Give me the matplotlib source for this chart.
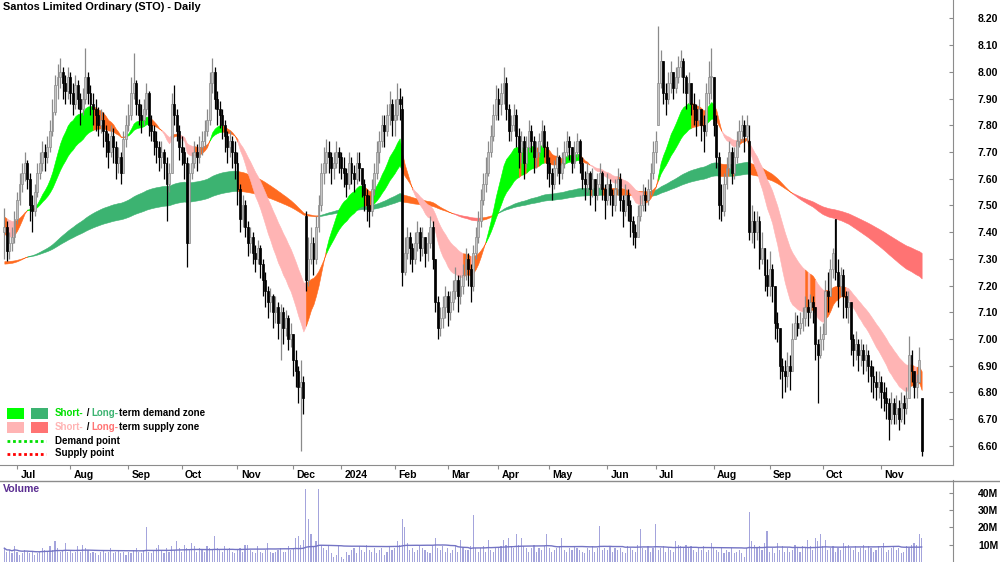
import numpy as np
import pandas as pd
import matplotlib
matplotlib.use("Agg")
import matplotlib.pyplot as plt
from matplotlib.patches import Rectangle
from matplotlib.lines import Line2D
import matplotlib.transforms as mtransforms

plt.rcParams['font.family'] = ['Liberation Sans', 'DejaVu Sans']

# ---------------- data ----------------
holidays = ['2023-12-25', '2023-12-26', '2024-01-01', '2024-01-26',
            '2024-03-29', '2024-04-01', '2024-04-25', '2024-06-10']
first_open = 7.40
# bars that opened with a gap: {bar number: open}
gap_opens = {119: 7.46, 157: 7.86, 258: 7.80, 294: 7.74, 328: 7.45, 362: 6.78}

close = [
    # Jun 2023
    7.42, 7.33, 7.36, 7.38, 7.45,
    # Jul
    7.52, 7.58, 7.62, 7.66, 7.60, 7.50, 7.48, 7.55, 7.62, 7.66, 7.70, 7.68, 7.72, 7.78, 7.85, 7.95, 7.98, 8.00, 7.96, 7.93, 7.98,
    # Aug
    7.92, 7.88, 7.95, 7.90, 7.86, 7.90, 7.98, 7.92, 7.88, 7.86, 7.84, 7.80, 7.82, 7.78, 7.74, 7.70, 7.76, 7.72, 7.66, 7.68, 7.62, 7.75, 7.80,
    # Sep
    7.84, 7.92, 7.96, 7.88, 7.84, 7.82, 7.86, 7.92, 7.80, 7.78, 7.74, 7.72, 7.68, 7.70, 7.66, 7.58, 7.62, 7.88, 7.84, 7.78, 7.72,
    # Oct
    7.70, 7.66, 7.36, 7.62, 7.66, 7.70, 7.68, 7.72, 7.74, 7.78, 7.82, 7.96, 8.00, 7.90, 7.86, 7.84, 7.80, 7.76, 7.72, 7.74, 7.70, 7.66,
    # Nov
    7.56, 7.45, 7.50, 7.42, 7.36, 7.38, 7.32, 7.30, 7.34, 7.28, 7.22, 7.18, 7.14, 7.16, 7.10, 7.12, 7.06, 7.10, 7.04, 7.08, 7.00, 7.02,
    # Dec
    6.92, 6.88, 6.82, 6.84, 6.78, 7.22, 7.30, 7.36, 7.30, 7.42, 7.50, 7.62, 7.66, 7.70, 7.68, 7.64, 7.66, 7.70, 7.68,
    # Jan 2024
    7.64, 7.62, 7.58, 7.66, 7.62, 7.60, 7.66, 7.64, 7.58, 7.54, 7.50, 7.48, 7.56, 7.62, 7.70, 7.74, 7.80, 7.78, 7.84, 7.88, 7.82,
    # Feb
    7.84, 7.90, 7.88, 7.25, 7.32, 7.38, 7.34, 7.30, 7.36, 7.40, 7.34, 7.38, 7.32, 7.36, 7.42, 7.30, 7.14, 7.04, 7.08, 7.12, 7.16,
    # Mar
    7.10, 7.14, 7.18, 7.22, 7.16, 7.20, 7.24, 7.30, 7.26, 7.20, 7.32, 7.38, 7.44, 7.52, 7.58, 7.62, 7.70, 7.76, 7.84, 7.90,
    # Apr
    7.88, 7.92, 7.96, 7.86, 7.78, 7.80, 7.84, 7.76, 7.70, 7.74, 7.66, 7.72, 7.78, 7.74, 7.68, 7.70, 7.74, 7.78, 7.72, 7.66,
    # May
    7.62, 7.58, 7.64, 7.68, 7.62, 7.66, 7.70, 7.74, 7.72, 7.66, 7.70, 7.74, 7.66, 7.60, 7.58, 7.62, 7.56, 7.60, 7.54, 7.58, 7.62, 7.56, 7.52,
    # Jun
    7.58, 7.54, 7.50, 7.56, 7.60, 7.52, 7.48, 7.54, 7.50, 7.44, 7.40, 7.38, 7.46, 7.50, 7.54, 7.52, 7.56, 7.62, 7.70,
    # Jul
    7.74, 7.96, 8.04, 7.92, 7.90, 7.96, 8.00, 7.94, 7.98, 8.02, 8.04, 7.98, 7.92, 7.96, 7.88, 7.86, 7.82, 7.86, 7.80, 7.78, 7.92, 7.98, 7.98,
    # Aug
    7.80, 7.68, 7.50, 7.48, 7.58, 7.64, 7.70, 7.62, 7.68, 7.74, 7.78, 7.80, 7.76, 7.80, 7.40, 7.44, 7.40, 7.44, 7.30, 7.34, 7.24, 7.20,
    # Sep
    7.26, 7.20, 7.06, 7.04, 6.90, 6.88, 6.86, 6.90, 6.88, 7.00, 7.06, 7.04, 7.06, 7.08, 7.12, 7.10, 7.14, 7.12, 6.98, 6.94, 7.00,
    # Oct
    7.02, 7.18, 7.16, 7.26, 7.32, 7.25, 7.20, 7.24, 7.16, 7.12, 7.14, 7.00, 6.96, 6.98, 6.94, 6.96, 6.92, 6.94, 6.90, 6.86, 6.84, 6.82, 6.84,
    # Nov
    6.80, 6.78, 6.76, 6.70, 6.76, 6.72, 6.74, 6.70, 6.76, 6.74, 6.78, 6.94, 6.88, 6.82, 6.84, 6.92, 6.58,
]

high = [
    7.49, 7.44, 7.40, 7.42, 7.48,
    7.55, 7.62, 7.66, 7.70, 7.67, 7.62, 7.54, 7.58, 7.66, 7.70, 7.74, 7.73, 7.76, 7.82, 7.90, 7.99, 8.03, 8.05, 8.02, 7.99, 8.02,
    8.00, 7.96, 7.99, 7.97, 7.92, 7.94, 8.09, 8.00, 7.95, 7.92, 7.90, 7.87, 7.86, 7.85, 7.80, 7.77, 7.80, 7.79, 7.74, 7.72, 7.70, 7.78, 7.84,
    7.88, 7.98, 8.07, 7.97, 7.90, 7.88, 7.90, 7.96, 7.93, 7.84, 7.80, 7.78, 7.74, 7.74, 7.71, 7.68, 7.66, 7.92, 7.95, 7.86, 7.80,
    7.76, 7.72, 7.68, 7.66, 7.70, 7.74, 7.73, 7.76, 7.78, 7.82, 7.86, 8.00, 8.05, 8.02, 7.93, 7.89, 7.86, 7.82, 7.78, 7.78, 7.76, 7.74,
    7.70, 7.58, 7.54, 7.52, 7.44, 7.42, 7.40, 7.35, 7.37, 7.35, 7.30, 7.25, 7.20, 7.19, 7.17, 7.16, 7.14, 7.13, 7.12, 7.11, 7.09, 7.06,
    7.02, 6.96, 6.90, 6.92, 6.86, 7.48, 7.38, 7.42, 7.38, 7.46, 7.54, 7.66, 7.72, 7.75, 7.74, 7.70, 7.70, 7.74, 7.72,
    7.70, 7.68, 7.64, 7.70, 7.68, 7.65, 7.70, 7.70, 7.64, 7.60, 7.56, 7.54, 7.60, 7.66, 7.74, 7.78, 7.84, 7.84, 7.88, 7.93, 7.90,
    7.90, 7.96, 7.94, 7.91, 7.38, 7.42, 7.40, 7.36, 7.40, 7.44, 7.42, 7.42, 7.38, 7.40, 7.46, 7.44, 7.30, 7.16, 7.12, 7.16, 7.20,
    7.18, 7.18, 7.22, 7.27, 7.24, 7.24, 7.28, 7.34, 7.32, 7.28, 7.35, 7.42, 7.48, 7.56, 7.62, 7.68, 7.74, 7.80, 7.88, 7.95,
    7.94, 7.96, 8.02, 7.98, 7.88, 7.84, 7.88, 7.86, 7.79, 7.78, 7.76, 7.76, 7.82, 7.80, 7.76, 7.74, 7.77, 7.82, 7.80, 7.74,
    7.68, 7.64, 7.67, 7.72, 7.69, 7.70, 7.74, 7.78, 7.76, 7.72, 7.74, 7.77, 7.75, 7.68, 7.63, 7.66, 7.63, 7.64, 7.60, 7.62, 7.66, 7.63, 7.58,
    7.62, 7.60, 7.56, 7.60, 7.64, 7.62, 7.54, 7.58, 7.56, 7.52, 7.46, 7.43, 7.50, 7.54, 7.58, 7.57, 7.60, 7.66, 7.74,
    7.78, 8.17, 8.08, 8.04, 7.96, 8.00, 8.04, 8.00, 8.02, 8.06, 8.08, 8.05, 7.99, 8.00, 7.96, 7.92, 7.88, 7.90, 7.86, 7.84, 7.96, 8.04, 8.09,
    7.96, 7.84, 7.70, 7.58, 7.62, 7.68, 7.74, 7.72, 7.72, 7.78, 7.82, 7.84, 7.82, 7.84, 7.80, 7.50, 7.48, 7.48, 7.46, 7.40, 7.33, 7.30,
    7.33, 7.28, 7.12, 7.10, 7.02, 6.93, 6.92, 6.95, 6.94, 7.06, 7.10, 7.09, 7.10, 7.12, 7.16, 7.15, 7.17, 7.16, 7.10, 7.00, 7.05,
    7.06, 7.22, 7.25, 7.30, 7.34, 7.45, 7.30, 7.27, 7.26, 7.18, 7.18, 7.10, 7.02, 7.03, 7.00, 7.00, 6.98, 6.98, 6.96, 6.92, 6.90, 6.88, 6.88,
    6.86, 6.84, 6.82, 6.78, 6.80, 6.78, 6.79, 6.77, 6.80, 6.79, 6.82, 7.01, 6.96, 6.88, 6.87, 6.97, 6.78,
]

low = [
    7.30, 7.29, 7.30, 7.33, 7.36,
    7.43, 7.50, 7.55, 7.59, 7.56, 7.44, 7.40, 7.46, 7.53, 7.60, 7.63, 7.63, 7.66, 7.70, 7.76, 7.84, 7.90, 7.94, 7.90, 7.88, 7.90,
    7.88, 7.84, 7.86, 7.86, 7.80, 7.84, 7.88, 7.88, 7.84, 7.80, 7.78, 7.76, 7.77, 7.72, 7.68, 7.64, 7.68, 7.66, 7.60, 7.62, 7.58, 7.62, 7.72,
    7.78, 7.82, 7.90, 7.84, 7.80, 7.77, 7.80, 7.84, 7.76, 7.74, 7.69, 7.66, 7.63, 7.64, 7.60, 7.44, 7.55, 7.62, 7.80, 7.74, 7.67,
    7.65, 7.60, 7.27, 7.40, 7.60, 7.64, 7.63, 7.66, 7.69, 7.72, 7.76, 7.80, 7.92, 7.86, 7.80, 7.79, 7.75, 7.70, 7.66, 7.68, 7.64, 7.60,
    7.50, 7.40, 7.42, 7.38, 7.31, 7.32, 7.28, 7.25, 7.28, 7.23, 7.16, 7.12, 7.08, 7.10, 7.04, 7.06, 7.00, 6.92, 6.98, 7.01, 6.96, 6.97,
    6.86, 6.82, 6.76, 6.58, 6.72, 7.18, 7.20, 7.28, 7.24, 7.28, 7.40, 7.48, 7.58, 7.62, 7.62, 7.58, 7.60, 7.64, 7.62,
    7.60, 7.57, 7.53, 7.56, 7.58, 7.55, 7.58, 7.59, 7.53, 7.48, 7.44, 7.42, 7.46, 7.54, 7.60, 7.66, 7.72, 7.72, 7.76, 7.80, 7.76,
    7.76, 7.82, 7.82, 7.20, 7.24, 7.30, 7.28, 7.25, 7.28, 7.33, 7.29, 7.31, 7.27, 7.29, 7.34, 7.26, 7.10, 7.00, 7.01, 7.04, 7.08,
    7.05, 7.07, 7.11, 7.15, 7.10, 7.13, 7.17, 7.22, 7.20, 7.14, 7.18, 7.30, 7.36, 7.42, 7.50, 7.55, 7.61, 7.68, 7.74, 7.82,
    7.82, 7.84, 7.88, 7.82, 7.74, 7.74, 7.78, 7.72, 7.64, 7.66, 7.60, 7.64, 7.70, 7.70, 7.62, 7.64, 7.68, 7.72, 7.68, 7.60,
    7.57, 7.52, 7.56, 7.61, 7.58, 7.60, 7.64, 7.68, 7.67, 7.62, 7.64, 7.68, 7.62, 7.56, 7.52, 7.55, 7.50, 7.53, 7.48, 7.52, 7.56, 7.52, 7.45,
    7.50, 7.50, 7.46, 7.48, 7.54, 7.48, 7.42, 7.46, 7.44, 7.38, 7.35, 7.34, 7.38, 7.44, 7.48, 7.48, 7.50, 7.54, 7.60,
    7.66, 7.80, 7.94, 7.88, 7.84, 7.88, 7.92, 7.90, 7.92, 7.96, 7.98, 7.92, 7.86, 7.88, 7.84, 7.80, 7.76, 7.80, 7.74, 7.70, 7.76, 7.88, 7.90,
    7.76, 7.64, 7.45, 7.44, 7.46, 7.56, 7.62, 7.58, 7.60, 7.66, 7.72, 7.74, 7.70, 7.74, 7.37, 7.36, 7.34, 7.37, 7.26, 7.28, 7.18, 7.16,
    7.16, 7.14, 7.00, 6.99, 6.85, 6.78, 6.80, 6.82, 6.81, 6.94, 7.00, 7.01, 7.02, 7.03, 7.05, 7.05, 7.08, 7.06, 6.92, 6.76, 6.93,
    6.96, 7.12, 7.10, 7.20, 7.23, 7.22, 7.12, 7.16, 7.08, 7.08, 7.06, 6.94, 6.90, 6.92, 6.88, 6.90, 6.87, 6.88, 6.84, 6.80, 6.78, 6.77, 6.78,
    6.74, 6.73, 6.70, 6.62, 6.68, 6.68, 6.68, 6.66, 6.69, 6.68, 6.72, 6.78, 6.84, 6.78, 6.78, 6.86, 6.56,
]

volume_m = [
    8, 6, 7, 5, 9,
    6, 4, 5, 7, 6, 5, 6, 4, 5, 6, 8, 7, 6, 9, 7, 12, 8, 6, 7, 11, 6,
    7, 5, 6, 9, 6, 10, 8, 7, 5, 6, 5, 4, 6, 7, 5, 6, 8, 5, 6, 7, 5, 6, 4,
    6, 5, 7, 8, 6, 5, 7, 20, 6, 5, 7, 8, 10, 7, 5, 8, 6, 9, 7, 12, 8,
    6, 10, 8, 7, 11, 9, 6, 8, 7, 6, 9, 8, 7, 15, 8, 7, 6, 9, 7, 8, 6, 5,
    7, 8, 6, 10, 10, 7, 6, 5, 9, 6, 5, 7, 11, 6, 5, 6, 7, 8, 6, 6, 9, 7,
    8, 14, 15, 10, 13, 42, 25, 16, 9, 12, 42, 10, 8, 7, 9, 5, 3, 4, 10,
    3, 2, 6, 4, 7, 8, 5, 9, 7, 6, 10, 7, 6, 8, 5, 7, 8, 4, 6, 9, 7,
    8, 12, 10, 25, 20, 11, 7, 8, 6, 7, 9, 8, 7, 6, 5, 9, 14, 8, 7, 9, 6,
    8, 5, 7, 9, 6, 13, 8, 7, 7, 9, 27, 8, 6, 8, 9, 6, 13, 7, 6, 8,
    8, 9, 13, 10, 14, 9, 8, 16, 10, 14, 9, 8, 6, 8, 10, 6, 8, 7, 9, 16,
    8, 6, 7, 8, 9, 14, 7, 6, 8, 7, 9, 8, 7, 6, 5, 8, 7, 9, 6, 8, 21, 7, 8,
    7, 9, 6, 8, 7, 8, 6, 5, 9, 8, 7, 6, 10, 19, 8, 7, 9, 6, 8,
    22, 7, 8, 9, 6, 8, 7, 6, 12, 10, 9, 8, 10, 8, 9, 7, 6, 8, 7, 9, 6, 7, 11,
    8, 7, 6, 8, 5, 7, 6, 8, 5, 6, 7, 5, 3, 8, 29, 12, 10, 8, 9, 7, 11, 18,
    6, 8, 5, 11, 7, 9, 6, 8, 6, 7, 10, 8, 6, 9, 8, 13, 9, 7, 14, 12, 16,
    9, 13, 7, 8, 9, 6, 8, 7, 11, 9, 10, 8, 7, 9, 6, 8, 10, 7, 9, 8, 6, 7, 9,
    8, 11, 6, 7, 8, 9, 7, 8, 5, 6, 9, 8, 10, 11, 10, 16, 14,
]

# band settings (EMA lengths and starting levels read at the left edge)
short_fast_n, short_slow_n = 17, 34
long_fast_n, long_slow_n = 140, 220
short_fast_seed, short_slow_seed = 7.39, 7.46
long_fast_seed, long_slow_seed = 7.28, 7.29
volume_avg_n = 60

# ---------------- preparation ----------------
dates = pd.bdate_range('2023-06-26', '2024-11-29', freq='C', holidays=holidays)
n = len(close)
dates = dates[:n]
close = np.array(close)
high = np.array(high[:n])
low = np.array(low[:n])
open_ = np.concatenate([[first_open], close[:-1]])
for k, v in gap_opens.items():
    open_[k] = v
high = np.maximum(high, np.maximum(open_, close))
low = np.minimum(low, np.minimum(open_, close))
vol = np.array(volume_m[:n]) * 1e6
x = np.arange(n)


def ema(vals, length, seed):
    a = 2.0 / (length + 1)
    out = []
    e = seed
    for v in vals:
        e = e + a * (v - e)
        out.append(e)
    return np.array(out)


sf = ema(close, short_fast_n, short_fast_seed)
ss = ema(close, short_slow_n, short_slow_seed)
lf = ema(close, long_fast_n, long_fast_seed)
ls = ema(close, long_slow_n, long_slow_seed)

C_SHORT_UP = '#00FF00'
C_LONG_UP = '#3CB371'
C_SHORT_DN = '#FFB4B4'
C_LONG_DN = '#FF7373'
C_MIX = '#FF6A1F'

fig = plt.figure(figsize=(10, 5.62), dpi=100)
PX_W, PX_H = 1000.0, 562.0
AX_RIGHT = 953
ax = fig.add_axes([0, (PX_H - 465) / PX_H, AX_RIGHT / PX_W, 465 / PX_H])
axv = fig.add_axes([0, 0, AX_RIGHT / PX_W, 82 / PX_H])

px_per_bar = 2.534
x0 = -1.71
ax.set_xlim(x0, x0 + AX_RIGHT / px_per_bar)
axv.set_xlim(x0, x0 + AX_RIGHT / px_per_bar)
ax.set_ylim(6.528, 8.269)
axv.set_ylim(0, 47.5e6)


def draw_band(axis, xs, f, s, c_up, c_dn, c_mix, z):
    d = np.diff(f, prepend=f[0])
    state = np.where((f >= s) & (d >= 0), 0, np.where((f < s) & (d < 0), 1, 2))
    cols = [c_up, c_dn, c_mix]
    start = 0
    m = len(xs)
    for i in range(1, m + 1):
        if i == m or state[i] != state[start]:
            end = min(i, m - 1)
            if end > start:
                axis.fill_between(xs[start:end + 1], f[start:end + 1], s[start:end + 1],
                                  color=cols[state[start]], lw=0.4, zorder=z)
            start = i


draw_band(ax, x, lf, ls, C_LONG_UP, C_LONG_DN, C_MIX, 1)
draw_band(ax, x, sf, ss, C_SHORT_UP, C_SHORT_DN, C_MIX, 2)

# candles
up = close >= open_
ax.vlines(x[up], low[up], high[up], color='#8a8a8a', lw=0.9, zorder=3)
ax.vlines(x[~up], low[~up], high[~up], color='#000000', lw=0.9, zorder=3)
body_b = np.minimum(open_, close)
body_h = np.maximum(np.abs(close - open_), 0.006)
ax.bar(x[up], body_h[up], bottom=body_b[up], width=0.75, color='#c4c4c4',
       edgecolor='#8a8a8a', lw=0.5, zorder=4)
ax.bar(x[~up], body_h[~up], bottom=body_b[~up], width=0.75, color='#000000',
       edgecolor='#000000', lw=0.5, zorder=4)

# volume
axv.bar(x, vol, width=0.45, color='#a4a4dc', lw=0, zorder=2)
vma = pd.Series(vol).rolling(volume_avg_n, min_periods=1).mean().values
axv.plot(x, vma, color='#7474c4', lw=1.0, zorder=3)

# axes styling
GRID = '#8c8c8c'
for a in (ax, axv):
    a.set_facecolor('none')
    for sp in ('top', 'left'):
        a.spines[sp].set_visible(False)
    a.spines['right'].set_color(GRID)
    a.yaxis.tick_right()
ax.spines['bottom'].set_color(GRID)
axv.spines['bottom'].set_visible(False)

ax.set_yticks(np.round(np.arange(6.6, 8.21, 0.1), 2))
ax.set_yticklabels([f"{v:.2f}" for v in np.arange(6.6, 8.21, 0.1)])
ax.tick_params(axis='y', direction='in', length=3, color=GRID, pad=18,
               labelsize=7.5)
axv.set_yticks([10e6, 20e6, 30e6, 40e6])
axv.set_yticklabels(['10M', '20M', '30M', '40M'])
axv.tick_params(axis='y', direction='in', length=3, color=GRID, pad=18,
                labelsize=7.5)
for lbl in ax.get_yticklabels() + axv.get_yticklabels():
    lbl.set_fontweight('bold')

# month ticks
months = pd.Series(dates.to_period('M'))
month_start = [i for i in range(n) if i == 0 or months[i] != months[i - 1]]
month_start = [i for i in month_start if dates[i].day <= 7 and i > 0]
ax.set_xticks(month_start)
ax.set_xticklabels([])
ax.tick_params(axis='x', direction='out', length=3, color=GRID)
axv.set_xticks([])
trans = mtransforms.blended_transform_factory(ax.transData, ax.transAxes)
for i in month_start:
    d = dates[i]
    lab = str(d.year) if d.month == 1 else d.strftime('%b')
    ax.text(i + 1.3, -9.5 / 465, lab, transform=trans, ha='left', va='center',
            fontsize=7.5, fontweight='bold', color='#000000', clip_on=False)

# separator line above the volume panel (full width)
fig.add_artist(Line2D([0, 1], [1 - 480.5 / PX_H] * 2, transform=fig.transFigure,
                      color='#8c8c8c', lw=1.0))

# titles
fig.text(3 / PX_W, 1 - 7 / PX_H, 'Santos Limited Ordinary (STO) - Daily',
         ha='left', va='center', fontsize=7.9, fontweight='bold', color='#000000')
fig.text(3 / PX_W, 1 - 489 / PX_H, 'Volume', ha='left', va='center',
         fontsize=7.6, fontweight='bold', color='#5a2d91')


# legend
def fy(py):
    return 1 - py / PX_H


LEG_FS = 7.0


def chain(parts, px, py):
    prev = fig.text(px / PX_W, fy(py), parts[0][0], color=parts[0][1], ha='left',
                    va='center', fontsize=LEG_FS, fontweight='bold')
    for txt, col in parts[1:]:
        prev = ax.annotate(txt, xy=(1, 0), xycoords=prev, ha='left', va='bottom',
                           fontsize=LEG_FS, fontweight='bold', color=col,
                           annotation_clip=False)


for (py, c1, c2) in [(413.5, C_SHORT_UP, C_LONG_UP), (427.5, C_SHORT_DN, C_LONG_DN)]:
    fig.add_artist(Rectangle((7 / PX_W, fy(py + 5.5)), 17 / PX_W, 11 / PX_H,
                             transform=fig.transFigure, color=c1, lw=0))
    fig.add_artist(Rectangle((31 / PX_W, fy(py + 5.5)), 17 / PX_W, 11 / PX_H,
                             transform=fig.transFigure, color=c2, lw=0))
chain([('Short-', '#00E000'), (' / ', '#000000'), ('Long-', C_LONG_UP),
       ('term demand zone', '#000000')], 55, 413.5)
chain([('Short-', C_SHORT_DN), (' / ', '#000000'), ('Long-', C_LONG_DN),
       ('term supply zone', '#000000')], 55, 427.5)
for py, col, lab in [(441, '#00E000', 'Demand point'), (453.5, '#FF0000', 'Supply point')]:
    fig.add_artist(Line2D([7 / PX_W, 46 / PX_W], [fy(py)] * 2, transform=fig.transFigure,
                          color=col, lw=2.0, ls=(0, (1, 1))))
    fig.text(55 / PX_W, fy(py), lab, ha='left', va='center', fontsize=LEG_FS,
             fontweight='bold', color='#000000')

fig.savefig('out.png', dpi=100)
